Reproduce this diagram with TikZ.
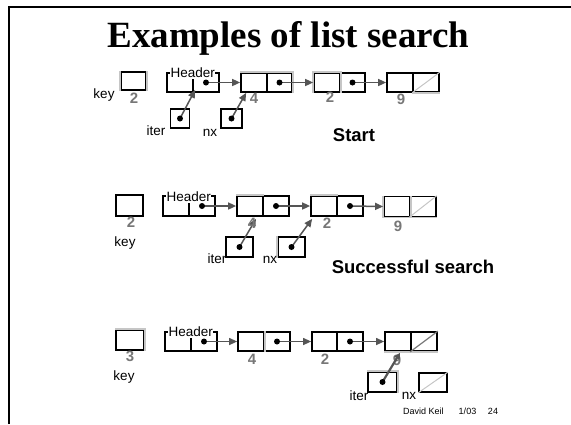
\documentclass[tikz,border=0pt]{standalone}
\usepackage{fontspec}
\setmainfont{Liberation Serif}
\setsansfont{Liberation Sans}
\usetikzlibrary{arrows.meta,calc}
\definecolor{lightedge}{HTML}{C6C6C6}
\definecolor{ptrcol}{HTML}{555555}
\definecolor{numcol}{HTML}{777777}
\begin{document}
\begin{tikzpicture}[x=1pt,y=-1pt,
  cell/.style={draw=black,line width=1.7pt,inner sep=0pt,minimum width=26pt,minimum height=19pt},
  lt/.style={draw=lightedge,line width=1.7pt},
  diag/.style={draw=lightedge,line width=1pt},
  ptr/.style={draw=ptrcol,line width=1.5pt,-{Triangle[length=8pt,width=7pt]}},
  dotc/.style={fill=black},
  lbl/.style={font=\sffamily\fontsize{13.5}{15}\selectfont,inner sep=0pt},
  hdr/.style={font=\sffamily\fontsize{13.5}{15}\selectfont,inner sep=0.5pt,fill=white},
  num/.style={font=\sffamily\bfseries\fontsize{15}{17}\selectfont,text=numcol,inner sep=0pt},
  capt/.style={font=\sffamily\bfseries\fontsize{18.5}{21}\selectfont,inner sep=0pt},
  foot/.style={font=\sffamily\fontsize{9}{11}\selectfont,inner sep=0pt}]
\useasboundingbox (0,0) rectangle (571,424);
% frame
\draw[line width=2pt] (9,424) -- (9,7) -- (571,7);
% title
\node[font=\rmfamily\bfseries\fontsize{37}{40}\selectfont,inner sep=0pt,anchor=base] (title) at (288.5,47) {Examples of list search};

% ---------------- Row 1 ----------------
\node[cell,minimum width=25pt,minimum height=18pt] (k1) at (133.5,81) {};
\node[cell] (h1a) at (180,82.5) {};
\node[cell] (h1b) at (206,82.5) {};
\node[cell] (a1a) at (254,82.5) {};
\node[cell,minimum width=25pt] (a1b) at (279.5,82.5) {};
\node[cell] (b1a) at (327,82.5) {};
\node[cell,minimum width=25pt] (b1b) at (352.5,82.5) {};
\node[cell] (c1a) at (400,82.5) {};
\node[cell] (c1b) at (426,82.5) {};
\node[cell,minimum width=19pt] (it1) at (180,118.5) {};
\node[cell,minimum width=21pt] (nx1) at (231.5,118.5) {};
\draw[lt] (k1.north west) -- (k1.south west);
\draw[lt] (k1.north east) -- (k1.south east);
\draw[lt] (a1a.north west) -- (a1b.north east) -- (a1b.south east);
\draw[lt] (b1a.south west) -- (b1a.north west) -- (b1a.north east) -- (b1a.south east);
\draw[lt] (c1b.south west) -- (c1b.south east);
\draw[diag] (c1b.south west) -- (c1b.north east);
\draw[ptr] (h1b.center) -- (a1a.west);
\draw[ptr] (a1b.center) -- (b1a.west);
\draw[ptr] (b1b.center) -- (c1a.west);
\draw[ptr] (it1.center) -- ($(h1b.south west)+(3,-3)$);
\draw[ptr] (nx1.center) -- ($(a1a.south west)+(6,0)$);
\foreach \n in {h1b,a1b,b1b,it1,nx1} \fill[dotc] (\n.center) circle[radius=3pt];
\node[hdr] (hd1) at ($(h1a.north east)+(-1,1)$) {Header};
\node[lbl] (key1) at (104,95) {key};
\node[num] (v1k) at (134,98) {2};
\node[num] (v1a) at (254,98) {4};
\node[num] (v1b) at (330,97) {2};
\node[num] (v1c) at (401,99) {9};
\node[lbl] (il1) at (156,131) {iter};
\node[lbl] (nl1) at (210,133) {nx};
\node[capt] (start) at (354,135) {Start};

% ---------------- Row 2 ----------------
\node[cell,minimum width=27pt,minimum height=21pt] (k2) at (129.5,205.5) {};
\node[cell,minimum height=20pt] (h2a) at (176,206) {};
\node[cell,minimum height=20pt] (h2b) at (202,206) {};
\node[cell,minimum height=20pt] (a2a) at (250,206) {};
\node[cell,minimum height=20pt] (a2b) at (276,206) {};
\node[cell,minimum height=20pt] (b2a) at (324,206) {};
\node[cell,minimum height=20pt] (b2b) at (350,206) {};
\node[cell,minimum height=20pt] (c2a) at (397,206.5) {};
\node[cell,minimum height=20pt] (c2b) at (423,206.5) {};
\node[cell,minimum width=27pt,minimum height=20pt] (it2) at (239.5,247) {};
\node[cell,minimum width=27pt,minimum height=20pt] (nx2) at (291.5,247) {};
\draw[lt] (a2a.north west) -- (a2a.north east);
\draw[lt] (b2a.north west) -- (b2a.north east);
\draw[lt] (c2a.north west) -- (c2a.south west) -- (c2b.south east);
\draw[lt] (c2a.north east) -- (c2a.south east);
\draw[lt] (nx2.north west) -- (nx2.south west);
\draw[diag] (c2b.south west) -- (c2b.north east);
\draw[ptr] (h2b.center) -- (a2a.west);
\draw[ptr] (a2b.center) -- (b2a.west);
\draw[ptr] (b2b.center) -- (c2a.west);
\draw[ptr] (it2.center) -- ($(a2a.south)+(6,2)$);
\draw[ptr] (nx2.center) -- ($(b2a.south west)+(2,2)$);
\foreach \n in {h2b,a2b,b2b,it2,nx2} \fill[dotc] (\n.center) circle[radius=3pt];
\node[hdr] (hd2) at ($(h2a.north east)+(-1,2)$) {Header};
\node[num] (v2k) at (131,222) {2};
\node[lbl] (key2) at (125,243) {key};
\node[num] (v2a) at (252,223) {4};
\node[num] (v2b) at (327,223) {2};
\node[num] (v2c) at (398,226) {9};
\node[lbl] (il2) at (217,259) {iter};
\node[lbl] (nl2) at (270,260) {nx};
\node[capt] (succ) at (413,267) {Successful search};

% ---------------- Row 3 ----------------
\node[cell,minimum width=28pt,minimum height=20pt] (k3) at (130,340) {};
\node[cell] (h3a) at (178,341.5) {};
\node[cell] (h3b) at (204,341.5) {};
\node[cell] (a3a) at (251,341.5) {};
\node[cell] (a3b) at (277,341.5) {};
\node[cell,minimum width=25pt] (b3a) at (324.5,341.5) {};
\node[cell] (b3b) at (350,341.5) {};
\node[cell] (c3a) at (398,341.5) {};
\node[cell] (c3b) at (424,341.5) {};
\node[cell,minimum width=29pt,minimum height=20pt] (it3) at (382.5,382) {};
\node[cell,minimum width=28pt] (nx3) at (433,382.5) {};
\draw[lt] (k3.north west) -- (k3.north east) -- (k3.south east);
\draw[lt] (a3a.north east) -- (a3a.south east);
\draw[lt] (c3a.south west) -- (c3b.south east);
\draw[lt] (it3.north west) -- (it3.north east) -- (it3.south east);
\draw[draw=numcol,line width=1.2pt] (c3b.south west) -- (c3b.north east);
\draw[diag] (nx3.south west) -- (nx3.north east);
\draw[ptr,line width=1.1pt] (h3b.center) -- (a3a.west);
\draw[ptr,line width=1.1pt] (a3b.center) -- (b3a.west);
\draw[ptr,line width=1.1pt] (b3b.center) -- (c3a.west);
\node[num] (v3c) at (397,360) {9};
\draw[ptr,line width=2.2pt,-{Triangle[length=6pt,width=6pt]}] (it3.center) -- ($(c3a.south)+(2,1)$);
\foreach \n in {h3b,a3b,b3b,it3} \fill[dotc] (\n.center) circle[radius=3pt];
\node[hdr] (hd3) at ($(h3a.north east)+(-1,1)$) {Header};
\node[num] (v3k) at (130,356) {3};
\node[lbl] (key3) at (124,377) {key};
\node[num] (v3a) at (252,359) {4};
\node[num] (v3b) at (325,359) {2};
\node[lbl] (il3) at (359,396) {iter};
\node[lbl] (nl3) at (409,396) {nx};

% footer
\node[foot] (f1) at (423.5,411) {David Keil};
\node[foot] (f2) at (467.5,411) {1/03};
\node[foot] (f3) at (493,411) {24};
\end{tikzpicture}
\end{document}
